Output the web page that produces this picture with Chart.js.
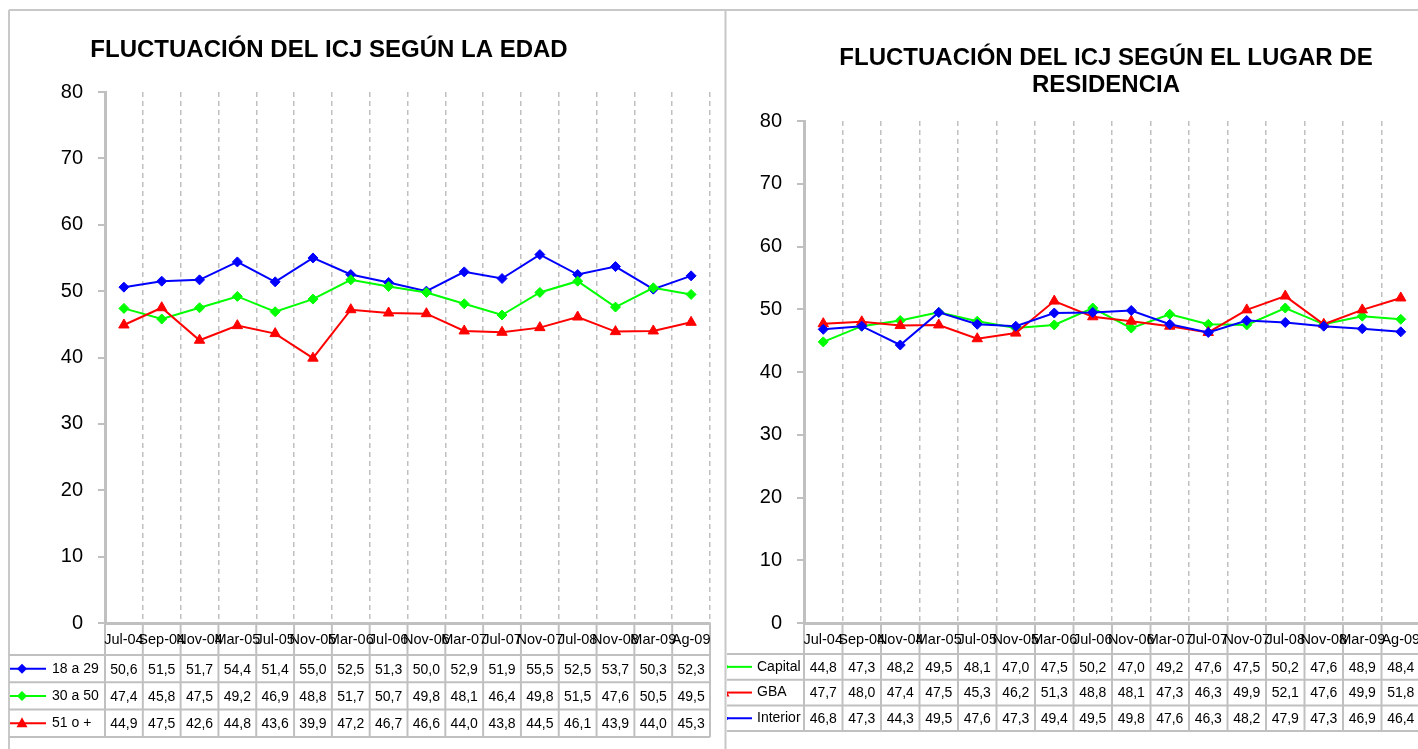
<!DOCTYPE html>
<html>
<head>
<meta charset="utf-8">
<script src="https://cdn.jsdelivr.net/npm/chart.js@4.4.1/dist/chart.umd.min.js"></script>
<style>
  html, body { margin: 0; padding: 0; background: #fff; overflow: hidden; }
  #wrap { position: relative; width: 1418px; height: 749px; overflow: hidden; }
  #edadChart { position: absolute; left: 0; top: 0; }
  #lugarChart { position: absolute; left: 727px; top: 0; }
</style>
</head>
<body>
<div id="wrap">
  <canvas id="edadChart" width="728" height="749"></canvas>
  <canvas id="lugarChart" width="700" height="749"></canvas>
</div>
<script>
// periods shared by both charts
const periodos = ["Jul-04", "Sep-04", "Nov-04", "Mar-05", "Jul-05", "Nov-05", "Mar-06", "Jul-06",
  "Nov-06", "Mar-07", "Jul-07", "Nov-07", "Jul-08", "Nov-08", "Mar-09", "Ag-09"];
const yTicks = [0, 10, 20, 30, 40, 50, 60, 70, 80];

// ICJ by age
const edad18a29 = [50.6, 51.5, 51.7, 54.4, 51.4, 55.0, 52.5, 51.3, 50.0, 52.9, 51.9, 55.5, 52.5, 53.7, 50.3, 52.3];
const edad30a50 = [47.4, 45.8, 47.5, 49.2, 46.9, 48.8, 51.7, 50.7, 49.8, 48.1, 46.4, 49.8, 51.5, 47.6, 50.5, 49.5];
const edad51mas = [44.9, 47.5, 42.6, 44.8, 43.6, 39.9, 47.2, 46.7, 46.6, 44.0, 43.8, 44.5, 46.1, 43.9, 44.0, 45.3];

// ICJ by place of residence
const capital = [44.8, 47.3, 48.2, 49.5, 48.1, 47.0, 47.5, 50.2, 47.0, 49.2, 47.6, 47.5, 50.2, 47.6, 48.9, 48.4];
const gba = [47.7, 48.0, 47.4, 47.5, 45.3, 46.2, 51.3, 48.8, 48.1, 47.3, 46.3, 49.9, 52.1, 47.6, 49.9, 51.8];
const interior = [46.8, 47.3, 44.3, 49.5, 47.6, 47.3, 49.4, 49.5, 49.8, 47.6, 46.3, 48.2, 47.9, 47.3, 46.9, 46.4];

const FONT = "'Liberation Sans', Arial, sans-serif";
const GRID = "#c0c0c0";

function line(ctx, x1, y1, x2, y2) {
  ctx.beginPath();
  ctx.moveTo(x1, y1);
  ctx.lineTo(x2, y2);
  ctx.stroke();
}

function marker(ctx, style, color, x, y) {
  ctx.fillStyle = color;
  ctx.beginPath();
  if (style === "triangle") {
    ctx.moveTo(x, y - 6);
    ctx.lineTo(x + 5.5, y + 4);
    ctx.lineTo(x - 5.5, y + 4);
  } else {
    ctx.moveTo(x, y - 5);
    ctx.lineTo(x + 5, y);
    ctx.lineTo(x, y + 5);
    ctx.lineTo(x - 5, y);
  }
  ctx.closePath();
  ctx.fill();
}

// frame, title and data table under the plot
const tablePlugin = {
  id: "dataTable",
  beforeDraw(chart, args, opts) {
    const ctx = chart.ctx;
    ctx.save();
    ctx.strokeStyle = "#c8c8c8";
    ctx.lineWidth = 2;
    opts.frame.forEach((f) => line(ctx, f[0], f[1], f[2], f[3]));
    ctx.fillStyle = "#000";
    ctx.font = "bold 24px " + FONT;
    ctx.textAlign = "center";
    ctx.textBaseline = "middle";
    opts.title.forEach((t) => ctx.fillText(t.text, t.x, t.y));
    ctx.restore();
  },
  afterDraw(chart, args, opts) {
    const ctx = chart.ctx;
    const x = chart.scales.x;
    const n = chart.data.labels.length;
    const colW = (x.right - x.left) / n;
    const top = chart.chartArea.bottom;
    const rows = [top, top + opts.headerH];
    chart.data.datasets.forEach(() => rows.push(rows[rows.length - 1] + opts.rowH));
    const bottom = rows[rows.length - 1];

    ctx.save();
    ctx.strokeStyle = GRID;
    ctx.lineWidth = 2;
    for (let i = 0; i <= n; i++) {
      const px = x.left + i * colW;
      line(ctx, px, top, px, bottom);
    }
    rows.slice(1).forEach((r) => line(ctx, opts.legendLeft, r, x.right, r));

    ctx.fillStyle = "#000";
    ctx.font = "14.5px " + FONT;
    ctx.textAlign = "center";
    ctx.textBaseline = "middle";
    chart.data.labels.forEach((lab, i) => {
      ctx.fillText(lab, x.getPixelForValue(i), top + opts.headerH / 2 + 1);
    });

    ctx.font = "14px " + FONT;
    chart.data.datasets.forEach((ds, j) => {
      const cy = rows[j + 1] + opts.rowH / 2 + 1;
      ctx.fillStyle = "#000";
      ctx.textAlign = "center";
      ds.data.forEach((v, i) => {
        ctx.fillText(v.toFixed(1).replace(".", ","), x.getPixelForValue(i), cy);
      });
      // legend key
      ctx.strokeStyle = ds.borderColor;
      ctx.lineWidth = 2;
      line(ctx, opts.keyFrom, cy - 1, opts.keyTo, cy - 1);
      marker(ctx, ds.pointStyle, ds.borderColor, opts.markerX, cy - 1);
      ctx.fillStyle = "#000";
      ctx.textAlign = "left";
      ctx.fillText(ds.label, opts.textX, cy - 1);
    });
    ctx.restore();
  },
};

function serie(label, data, color, style, order) {
  return {
    label: label,
    data: data,
    borderColor: color,
    backgroundColor: color,
    pointBackgroundColor: color,
    pointBorderColor: color,
    pointStyle: style,
    pointRadius: style === "triangle" ? 6 : 5,
    pointBorderWidth: 1,
    borderWidth: 2,
    tension: 0,
    order: order,
  };
}

function makeChart(id, datasets, axisWidth, layoutPad, table) {
  return new Chart(document.getElementById(id), {
    type: "line",
    data: { labels: periodos, datasets: datasets },
    options: {
      responsive: false,
      animation: false,
      devicePixelRatio: 1,
      layout: { padding: layoutPad },
      plugins: {
        legend: { display: false },
        tooltip: { enabled: false },
        dataTable: table,
      },
      scales: {
        x: {
          offset: true,
          afterFit: (s) => { s.height = 0; },
          ticks: { display: false },
          grid: { offset: true, color: GRID, lineWidth: 1.5, drawTicks: false },
          border: { color: GRID, width: 3, dash: [5, 4] },
        },
        y: {
          min: yTicks[0],
          max: yTicks[yTicks.length - 1],
          afterFit: (s) => { s.width = axisWidth; },
          afterBuildTicks: (s) => { s.ticks = yTicks.map((v) => ({ value: v })); },
          ticks: { color: "#000", font: { family: FONT, size: 20 }, padding: 15 },
          grid: { drawOnChartArea: false, color: GRID, lineWidth: 2, tickLength: 7 },
          border: { color: GRID, width: 3 },
        },
      },
    },
    plugins: [tablePlugin],
  });
}

makeChart("edadChart", [
  serie("18 a 29", edad18a29, "#0000ff", "rectRot", 2),
  serie("30 a 50", edad30a50, "#00ff00", "rectRot", 1),
  serie("51 o +", edad51mas, "#ff0000", "triangle", 0),
], 105, { left: 0, top: 92, right: 18, bottom: 126 }, {
  headerH: 32, rowH: 27.3, legendLeft: 9,
  keyFrom: 10, keyTo: 46, markerX: 22, textX: 52,
  title: [{ text: "FLUCTUACIÓN DEL ICJ SEGÚN LA EDAD", x: 329, y: 50 }],
  frame: [[9, 10, 728, 10], [9, 10, 9, 749], [725.5, 10, 725.5, 749]],
});

makeChart("lugarChart", [
  serie("Capital", capital, "#00ff00", "rectRot", 2),
  serie("GBA", gba, "#ff0000", "triangle", 1),
  serie("Interior", interior, "#0000ff", "rectRot", 0),
], 77, { left: 0, top: 121, right: 5, bottom: 126 }, {
  headerH: 31, rowH: 25.7, legendLeft: 0,
  keyFrom: 0, keyTo: 25, markerX: -3, textX: 30,
  title: [
    { text: "FLUCTUACIÓN DEL ICJ SEGÚN EL LUGAR DE", x: 379, y: 58 },
    { text: "RESIDENCIA", x: 379, y: 85 },
  ],
  frame: [[0, 10, 700, 10]],
});
</script>
</body>
</html>
